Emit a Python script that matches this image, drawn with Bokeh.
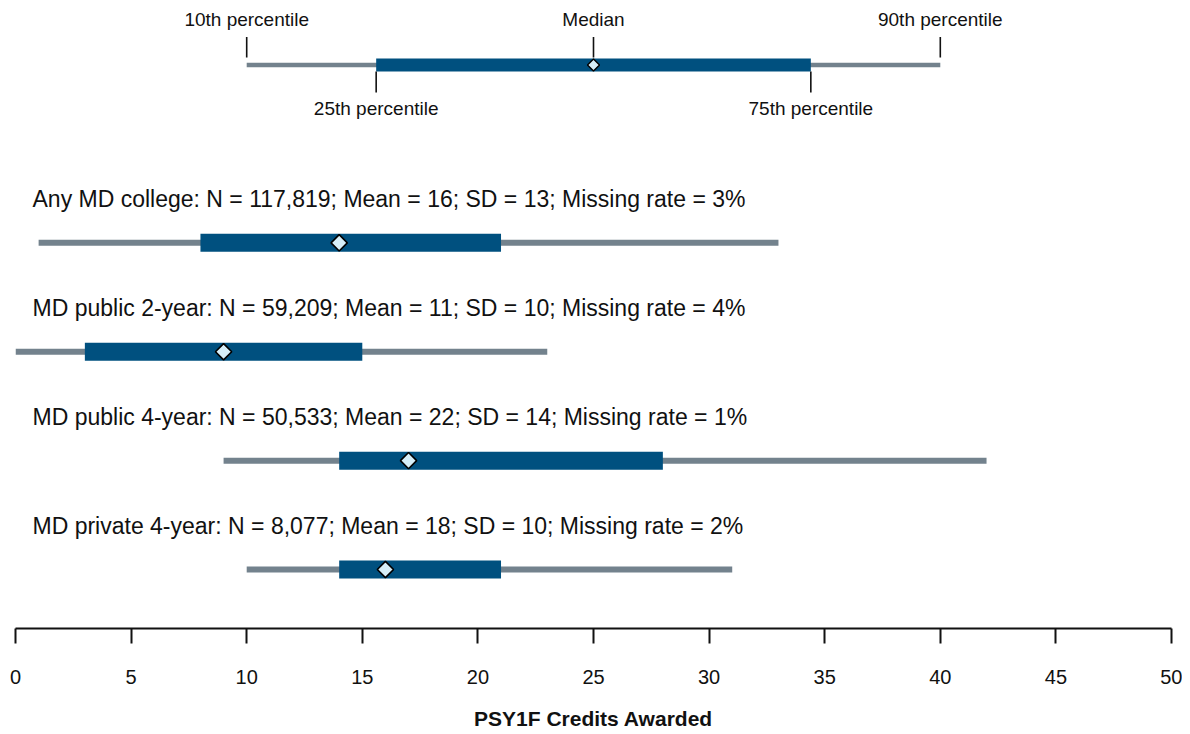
import math
from bokeh.plotting import figure
from bokeh.models import Range1d, FixedTicker, ColumnDataSource
from bokeh.embed import file_html
from bokeh.resources import INLINE
from bokeh.core.properties import value

# ---------------- data ----------------
groups = ["Any MD college", "MD public 2-year", "MD public 4-year", "MD private 4-year"]
n_values = ["117,819", "59,209", "50,533", "8,077"]
means = [16, 11, 22, 18]
sds = [13, 10, 14, 10]
missing_rates = [3, 4, 1, 2]
p10 = [1, 0, 9, 10]
p25 = [8, 3, 14, 14]
p50 = [14, 9, 17, 16]
p75 = [21, 15, 28, 21]
p90 = [33, 23, 42, 31]

key_values = [10, 15.6, 25, 34.4, 40]
key_labels = ["10th percentile", "25th percentile", "Median", "75th percentile", "90th percentile"]

x_ticks = list(range(0, 51, 5))
x_title = "PSY1F Credits Awarded"

# ---------------- layout ----------------
FONT = "Liberation Sans"
BLUE = "#00507F"
GRAY = "#73828D"
LIGHT = "#D6EEF8"
INK = "#111111"

ROW_PX = 109.0  # pixels per row unit
rows_y = [len(groups) - i for i in range(len(groups))]  # 4,3,2,1
y_bottom = 1 - 59 / ROW_PX
y_top = len(groups) + 234.5 / ROW_PX
key_y = len(groups) + 178 / ROW_PX

W, H = 1182, 732
p = figure(width=W, height=H, output_backend="svg", toolbar_location=None,
           title_location=None,
           x_range=Range1d(0, 50), y_range=Range1d(y_bottom, y_top),
           min_border_left=15, min_border_right=11, min_border_top=8,
           min_border_bottom=104)
p.outline_line_color = None
p.grid.visible = False
p.yaxis.visible = False
p.background_fill_color = "white"
p.border_fill_color = "white"

xa = p.xaxis[0]
xa.ticker = FixedTicker(ticks=x_ticks)
xa.minor_tick_line_color = None
xa.major_tick_in = 0
xa.major_tick_out = 15
xa.major_tick_line_width = 2
xa.axis_line_width = 2
xa.axis_line_color = INK
xa.major_tick_line_color = INK
xa.major_label_text_font = FONT
xa.major_label_text_font_size = "20px"
xa.major_label_text_color = INK
xa.major_label_standoff = 26
xa.axis_label = x_title
xa.axis_label_text_font = FONT
xa.axis_label_text_font_size = "21px"
xa.axis_label_text_font_style = "bold"
xa.axis_label_text_color = INK
xa.axis_label_standoff = 20

# ---------------- rows ----------------
labels = [f"{g}: N = {n}; Mean = {m}; SD = {s}; Missing rate = {r}%"
          for g, n, m, s, r in zip(groups, n_values, means, sds, missing_rates)]
src = ColumnDataSource(dict(y=rows_y, p10=p10, p25=p25, p50=p50, p75=p75, p90=p90,
                            label=labels, x0=[0] * len(groups)))

p.segment(x0="p10", y0="y", x1="p90", y1="y", source=src, line_width=6,
          line_color=GRAY, line_cap="butt")
p.segment(x0="p25", y0="y", x1="p75", y1="y", source=src, line_width=18,
          line_color=BLUE, line_cap="butt")
p.scatter(x="p50", y="y", source=src, marker="square", angle=math.pi / 4, size=11.5,
          fill_color=LIGHT, line_color="black", line_width=1.6)
p.text(x="x0", y="y", text="label", source=src, x_offset=17, y_offset=-44,
       text_font=value(FONT), text_font_size="23px", text_color=INK,
       text_align="left", text_baseline="alphabetic")

# ---------------- key ----------------
k10, k25, k50, k75, k90 = key_values
p.segment(x0=[k10], y0=[key_y], x1=[k90], y1=[key_y], line_width=4.5,
          line_color=GRAY, line_cap="butt")
p.segment(x0=[k25], y0=[key_y], x1=[k75], y1=[key_y], line_width=13,
          line_color=BLUE, line_cap="butt")
top_idx = [0, 2, 4]
bot_idx = [1, 3]
p.segment(x0=[key_values[i] for i in top_idx], y0=[key_y + 7.5 / ROW_PX] * 3,
          x1=[key_values[i] for i in top_idx], y1=[key_y + 28 / ROW_PX] * 3,
          line_width=1.6, line_color=INK)
p.segment(x0=[key_values[i] for i in bot_idx], y0=[key_y - 6.5 / ROW_PX] * 2,
          x1=[key_values[i] for i in bot_idx], y1=[key_y - 27.5 / ROW_PX] * 2,
          line_width=1.6, line_color=INK)
p.scatter(x=[k50], y=[key_y], marker="square", angle=math.pi / 4, size=8.5,
          fill_color=LIGHT, line_color="black", line_width=1.4)
p.text(x=[key_values[i] for i in top_idx], y=[key_y] * 3,
       text=[key_labels[i] for i in top_idx], y_offset=-45.5,
       text_font=value(FONT), text_font_size="19px", text_color=INK,
       text_align="center", text_baseline="alphabetic")
p.text(x=[key_values[i] for i in bot_idx], y=[key_y] * 2,
       text=[key_labels[i] for i in bot_idx], y_offset=43.5,
       text_font=value(FONT), text_font_size="19px", text_color=INK,
       text_align="center", text_baseline="alphabetic")

open("out.html", "w").write(file_html(p, INLINE))
